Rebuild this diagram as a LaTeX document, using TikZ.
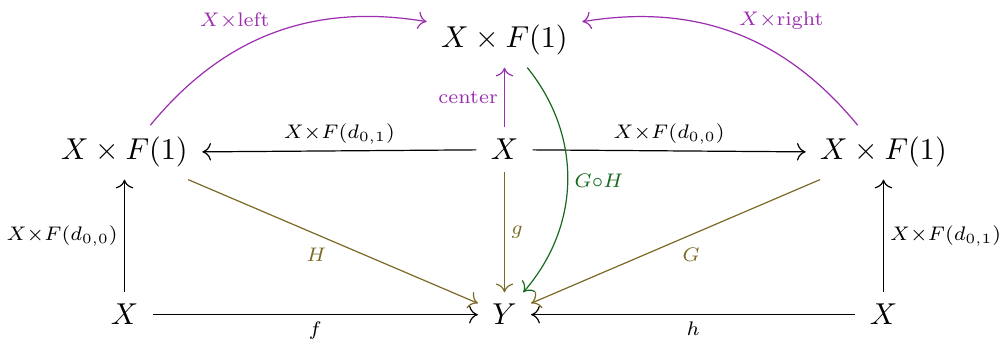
\documentclass[tikz,border=0pt]{standalone}
\usepackage{amsmath}
\usetikzlibrary{arrows.meta}
\definecolor{mapviolet}{RGB}{155,45,175}
\definecolor{mapolive}{RGB}{122,106,38}
\definecolor{mapgreen}{RGB}{22,105,30}
\begin{document}
\begin{tikzpicture}[x=0.331pt,y=-0.331pt,>={Computer Modern Rightarrow[width=5.8pt,length=2.9pt]},
	obj/.style={anchor=base,inner xsep=4.6pt,inner ysep=3.8pt},
	map/.style={->,line width=0.4pt},
	lab/.style={font=\scriptsize,inner sep=2.2pt,scale=0.93,transform shape}]
	\useasboundingbox (0,0) rectangle (1003,350);
	\node[obj] (top) at (504.5,48) {$X\times F(1)$};
	\node[obj] (ml) at (124.5,160) {$X\times F(1)$};
	\node[obj] (mx) at (504.5,160) {$X$};
	\node[obj] (mr) at (883.5,160) {$X\times F(1)$};
	\node[obj] (bl) at (124.5,325) {$X$};
	\node[obj] (y) at (504.5,325) {$Y$};
	\node[obj] (br) at (883.5,325) {$X$};
	\draw[map] (mx) -- node[lab,above] {$X{\times}F(d_{0,1})$} (ml);
	\draw[map] (mx) -- node[lab,above] {$X{\times}F(d_{0,0})$} (mr);
	\draw[map] (bl) -- node[lab,left] {$X{\times}F(d_{0,0})$} (ml);
	\draw[map] (br) -- node[lab,right] {$X{\times}F(d_{0,1})$} (mr);
	\draw[map] (bl) -- node[lab,below] {$f$} (y);
	\draw[map] (br) -- node[lab,below] {$h$} (y);
	\draw[map,mapviolet] (mx) -- node[lab,left] {center} (top);
	\draw[map,mapviolet] (ml) to[bend left=30] node[lab,above left=-1pt] {$X{\times}\text{left}$} (top);
	\draw[map,mapviolet] (mr) to[bend right=30] node[lab,above right=-1pt] {$X{\times}\text{right}$} (top);
	\draw[map,mapolive] (mx) -- node[lab,right] {$g$} (y);
	\draw[map,mapolive] (ml) -- node[lab,below left=0pt] {$H$} (y);
	\draw[map,mapolive] (mr) -- node[lab,below right=0pt] {$G$} (y);
	\draw[map,mapgreen] (top) to[bend left=40] node[lab,right] {$G{\circ}H$} (y);
\end{tikzpicture}
\end{document}
